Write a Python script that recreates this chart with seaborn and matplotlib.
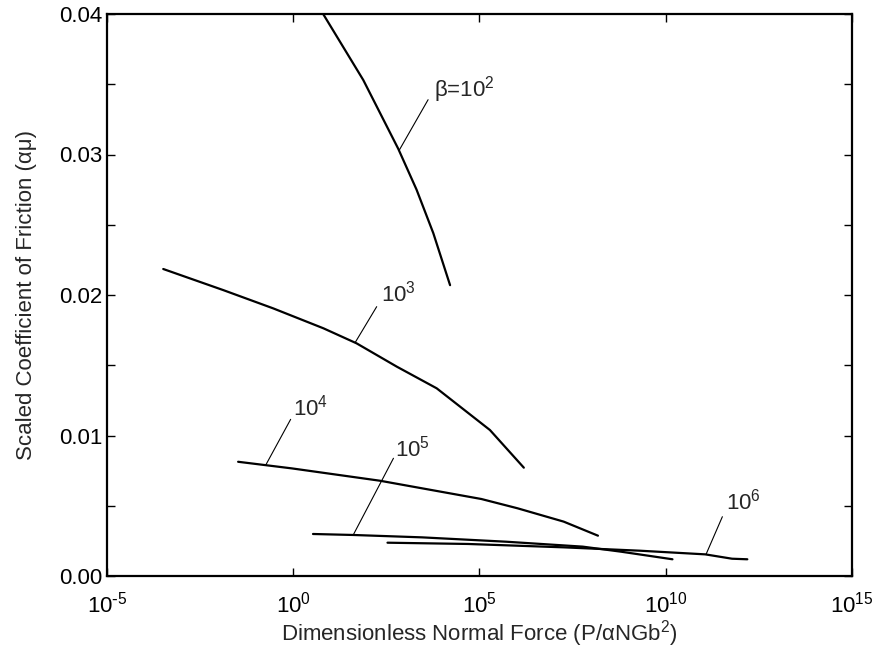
import numpy as np
import pandas as pd
import matplotlib
matplotlib.use("Agg")
import matplotlib.pyplot as plt
import seaborn as sns

# Friction curves: log10 of dimensionless normal force vs scaled friction coefficient
beta_labels = ["β=10$^{2}$", "10$^{3}$", "10$^{4}$", "10$^{5}$", "10$^{6}$"]

logP_b2 = [0.78, 1.88, 2.82, 3.31, 3.76, 4.21]
mu_b2 = [0.0401, 0.0353, 0.0304, 0.0275, 0.0244, 0.0207]

logP_b3 = [-3.49, -1.88, -0.54, 0.81, 1.70, 2.78, 3.85, 5.28, 6.19]
mu_b3 = [0.02185, 0.02035, 0.01905, 0.01763, 0.01656, 0.0149, 0.01336, 0.01039, 0.00771]

logP_b4 = [-1.48, -0.04, 2.33, 5.05, 6.02, 7.26, 8.18]
mu_b4 = [0.00813, 0.00766, 0.00678, 0.00548, 0.00482, 0.00387, 0.00287]

logP_b5 = [0.53, 1.61, 3.46, 5.72, 7.77, 8.80, 10.18]
mu_b5 = [0.00299, 0.00292, 0.00275, 0.00244, 0.00209, 0.00173, 0.00119]

logP_b6 = [2.53, 4.69, 7.26, 9.31, 11.06, 11.78, 12.19]
mu_b6 = [0.00237, 0.00228, 0.00204, 0.0018, 0.00154, 0.00123, 0.00119]

x_ticks = [1e-5, 1e0, 1e5, 1e10, 1e15]
x_tick_labels = ["10$^{\\text{-}5}$", "10$^{0}$", "10$^{5}$", "10$^{10}$", "10$^{15}$"]
y_ticks = [0.00, 0.01, 0.02, 0.03, 0.04]
y_tick_labels = ["0.00", "0.01", "0.02", "0.03", "0.04"]

curves = [(logP_b2, mu_b2), (logP_b3, mu_b3), (logP_b4, mu_b4),
          (logP_b5, mu_b5), (logP_b6, mu_b6)]

frames = []
for lab, (lx, mu) in zip(beta_labels, curves):
    frames.append(pd.DataFrame({"beta": lab, "force": 10.0 ** np.array(lx), "mu": mu}))
df = pd.concat(frames, ignore_index=True)

sns.set_style("ticks")
plt.rcParams["font.family"] = ["Liberation Sans", "DejaVu Sans"]
plt.rcParams["mathtext.default"] = "regular"

fig = plt.figure(figsize=(8.78, 6.53), dpi=100)
ax = fig.add_axes([107 / 878, 1 - 576 / 653, 745 / 878, 562 / 653])

sns.lineplot(data=df, x="force", y="mu", units="beta", estimator=None,
             sort=False, color="black", linewidth=1.6, ax=ax)

ax.set_xscale("log")
ax.set_xlim(1e-5, 1e15)
ax.set_ylim(0, 0.04)
ax.set_xticks(x_ticks)
ax.set_xticklabels(x_tick_labels)
ax.xaxis.set_minor_locator(matplotlib.ticker.NullLocator())
ax.set_yticks(y_ticks)
ax.set_yticklabels(y_tick_labels)
ax.set_yticks(np.arange(0.005, 0.04, 0.01), minor=True)

ax.tick_params(which="both", direction="in", top=True, right=True,
               length=5.5, width=1.0, labelsize=16, colors="black")
ax.tick_params(axis="x", pad=11)
ax.tick_params(axis="y", pad=3)
for sp in ax.spines.values():
    sp.set_linewidth(1.6)
    sp.set_color("black")

ax.set_xlabel("Dimensionless Normal Force (P/αNGb$^{2}$)", fontsize=16, labelpad=1)
ax.set_ylabel("Scaled Coefficient of Friction (αμ)", fontsize=16, labelpad=16)

# Leader lines: (curve index, log-force on curve, leader end (log-force, mu), text anchor (log-force, mu))
leaders = [
    (0, 2.84, (3.62, 0.0339), (3.78, 0.03416)),
    (1, 1.66, (2.24, 0.01917), (2.35, 0.01952)),
    (2, -0.74, (-0.07, 0.01115), (0.00, 0.01139)),
    (3, 1.61, (2.69, 0.00838), (2.74, 0.00849)),
    (4, 11.08, (11.52, 0.00422), (11.62, 0.0047)),
]
for idx, lx0, (lx1, y1), (tx, ty) in leaders:
    lx, mu = curves[idx]
    y0 = np.interp(lx0, lx, mu)
    ax.plot([10 ** lx0, 10 ** lx1], [y0, y1], color="black", linewidth=0.8)
    ax.text(10 ** tx, ty, beta_labels[idx], fontsize=16, ha="left", va="baseline")

fig.savefig("out.png", dpi=100, facecolor="white")
